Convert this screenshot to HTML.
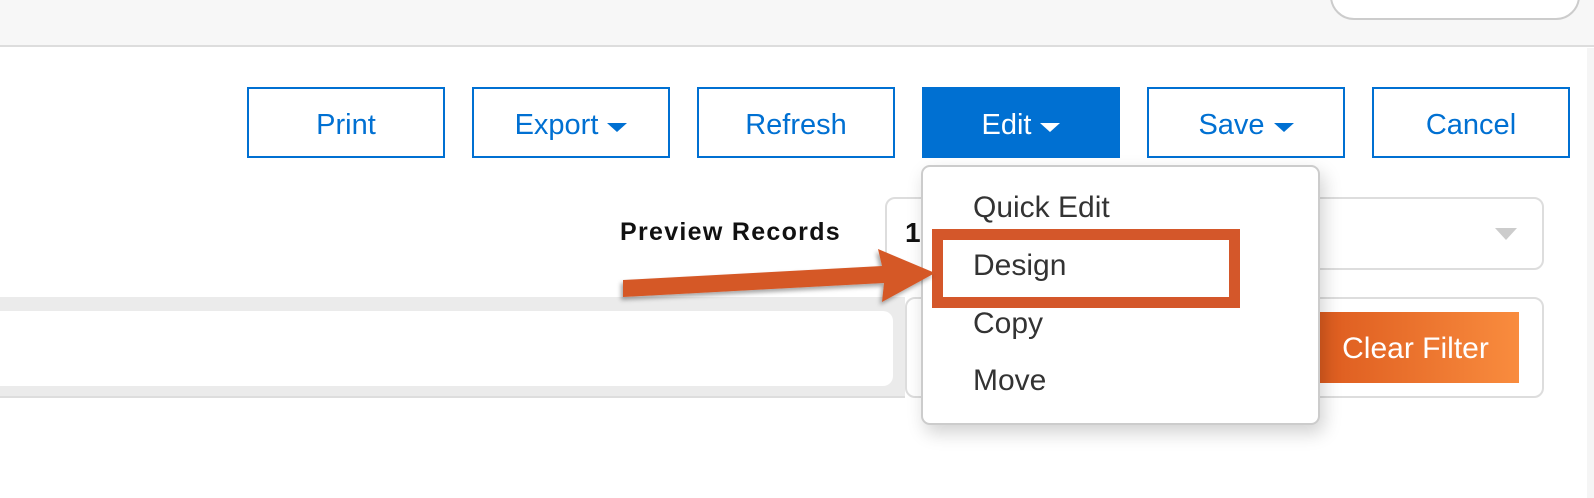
<!DOCTYPE html>
<html><head><meta charset="utf-8"><style>
*{box-sizing:border-box;margin:0;padding:0}
body{width:1594px;height:498px;position:relative;overflow:hidden;background:#fff;font-family:"Liberation Sans",sans-serif}
.abs{position:absolute}
.btn{position:absolute;top:87px;width:198px;height:71px;border:2px solid #0070d2;color:#0070d2;font-size:29px;display:flex;align-items:center;justify-content:center;background:#fff;padding-top:5px}
.tri{display:inline-block;width:0;height:0;border-left:10px solid transparent;border-right:10px solid transparent;border-top:9px solid currentColor;margin-left:9px;margin-top:4px}
.mi{position:absolute;left:50px;font-size:30px;color:#333}
</style></head><body>
<div class="abs" style="left:0;top:0;width:1594px;height:47px;background:#f7f7f7;border-bottom:2px solid #ddd"></div>
<div class="abs" style="left:1330px;top:-30px;width:250px;height:50px;background:#fff;border:2px solid #ccc;border-radius:24px"></div>
<div class="abs" style="left:1587px;top:48px;width:7px;height:450px;background:#f5f5f5"></div>

<div class="btn" style="left:247px">Print</div>
<div class="btn" style="left:472px">Export<span class="tri"></span></div>
<div class="btn" style="left:697px">Refresh</div>
<div class="btn" style="left:922px;background:#0070d2;color:#fff">Edit<span class="tri"></span></div>
<div class="btn" style="left:1147px">Save<span class="tri"></span></div>
<div class="btn" style="left:1372px">Cancel</div>

<div class="abs" style="left:620px;top:218px;font-size:25px;font-weight:bold;color:#111;letter-spacing:1.3px">Preview Records</div>
<div class="abs" style="left:885px;top:197px;width:659px;height:73px;border:2px solid #ddd;border-radius:10px;background:#fff"></div>
<div class="abs" style="left:905px;top:217px;font-size:28px;font-weight:bold;color:#111">1</div>
<div class="abs" style="left:1495px;top:228px;width:0;height:0;border-left:11px solid transparent;border-right:11px solid transparent;border-top:12px solid #ccc"></div>

<div class="abs" style="left:0;top:297px;width:905px;height:101px;background:#ebebeb;border-bottom:2px solid #ddd"></div>
<div class="abs" style="left:-10px;top:311px;width:903px;height:75px;background:#fff;border-radius:10px"></div>
<div class="abs" style="left:905px;top:297px;width:639px;height:101px;border:2px solid #ddd;border-radius:10px;background:#fff"></div>
<div class="abs" style="left:1290px;top:312px;width:229px;height:71px;background:linear-gradient(90deg,#d9541a,#f98c3e);color:#fff;font-size:30px;display:flex;align-items:center;justify-content:center;padding-left:22px;padding-top:3px">Clear Filter</div>

<div class="abs" style="left:921px;top:165px;width:399px;height:260px;background:#fff;border:2px solid #ccc;border-radius:9px;box-shadow:4px 8px 18px rgba(0,0,0,0.18)">
 <div class="mi" style="top:24px">Quick Edit</div>
 <div class="mi" style="top:82px">Design</div>
 <div class="mi" style="top:140px">Copy</div>
 <div class="mi" style="top:197px">Move</div>
</div>
<div class="abs" style="left:932px;top:229px;width:308px;height:79px;border:11px solid #d4572a"></div>

<svg class="abs" style="left:0;top:0" width="1594" height="498">
 <defs><filter id="s" x="-10%" y="-50%" width="120%" height="200%"><feDropShadow dx="-2" dy="3" stdDeviation="2" flood-color="#000" flood-opacity="0.35"/></filter></defs>
 <polygon filter="url(#s)" fill="#d55828" points="623,280 882,266 878,249 935,273 882,302 884,283 623,297"/>
</svg>
</body></html>
